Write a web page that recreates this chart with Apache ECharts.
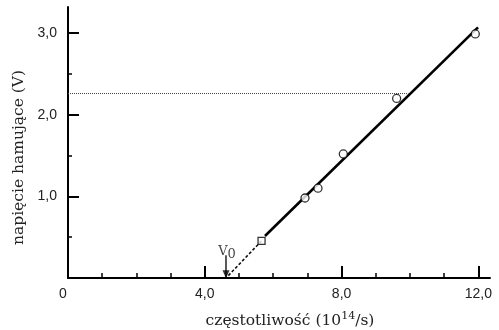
<!DOCTYPE html>
<html>
<head>
<meta charset="utf-8">
<script src="https://cdn.jsdelivr.net/npm/echarts@6/dist/echarts.min.js"></script>
<style>
html,body{margin:0;padding:0;background:#fff;}
#chart{width:499px;height:330px;}
</style>
</head>
<body>
<div id="chart"></div>
<script>
// measured points (frequency in 1e14/s, stopping voltage in V)
const freqPts = [5.66, 6.93, 7.31, 8.05, 9.61, 11.91];
const voltPts = [0.454, 0.98, 1.10, 1.52, 2.20, 2.99];
const pointSymbols = ['rect', 'circle', 'circle', 'circle', 'circle', 'circle'];
// fitted line
const fitFreq = [5.76, 11.99];
const fitVolt = [0.515, 3.07];
// dashed extrapolation to threshold
const extFreq = [5.66, 4.62];
const extVolt = [0.454, 0.0];
// horizontal dotted guide
const guideFreq = [0, 9.95];
const guideVolt = [2.26, 2.26];
// threshold frequency V0 and arrow
const v0 = 4.62;
const arrowVolt = [0.28, 0.0];
// ticks
const xMajorTicks = [4, 8, 12];
const xMinorTicks = [1, 2, 3, 5, 6, 7, 9, 10, 11];
const xTickLabels = [0, 4, 8, 12];
const yMajorTicks = [1, 2, 3];
const yMinorTicks = [0.5, 1.5, 2.5];
const yTickLabels = [1, 2, 3];
const xMax = 12.34, yMax = 3.32;

const zip = (a, b) => a.map((v, i) => [v, b[i]]);
const fmt = v => v === 0 ? '{z|0}' : v.toFixed(1).replace('.', ',');
const tickFont = {fontFamily: 'Liberation Sans', fontSize: 14, color: '#222'};

const chart = echarts.init(document.getElementById('chart'), null, {renderer: 'canvas'});
chart.setOption({
  animation: false,
  backgroundColor: '#fff',
  grid: {left: 68, right: 9, top: 7, bottom: 52, containLabel: false, outerBoundsMode: 'none'},
  xAxis: [{
    type: 'value', min: 0, max: xMax, position: 'bottom',
    axisLine: {show: true, lineStyle: {color: '#000', width: 2}},
    axisTick: {show: true, inside: true, length: 12, customValues: xMajorTicks, lineStyle: {color: '#000', width: 2}},
    axisLabel: Object.assign({show: true, margin: 9, customValues: xTickLabels, formatter: fmt,
      rich: {z: {fontFamily: 'Liberation Sans', fontSize: 14, color: '#222', padding: [0, 10, 0, 0]}}}, tickFont),
    splitLine: {show: false},
    name: 'częstotliwość (10{sup|14}/s)', nameLocation: 'middle', nameGap: 33,
    nameTextStyle: {fontFamily: 'DejaVu Serif', fontSize: 15.5, color: '#222', padding: [0, 0, 0, 22],
      rich: {sup: {fontFamily: 'DejaVu Serif', fontSize: 11, color: '#222', padding: [0, 0, 8, 0]}}}
  }, {
    type: 'value', min: 0, max: xMax, position: 'bottom',
    axisLine: {show: false},
    axisTick: {show: true, inside: true, length: 5, customValues: xMinorTicks, lineStyle: {color: '#000', width: 1.5}},
    axisLabel: {show: false}, splitLine: {show: false}
  }],
  yAxis: [{
    type: 'value', min: 0, max: yMax, position: 'left',
    axisLine: {show: true, lineStyle: {color: '#000', width: 2}},
    axisTick: {show: true, inside: true, length: 11, customValues: yMajorTicks, lineStyle: {color: '#000', width: 2}},
    axisLabel: Object.assign({show: true, margin: 11, customValues: yTickLabels, formatter: fmt}, tickFont),
    splitLine: {show: false},
    name: 'napięcie hamujące (V)', nameLocation: 'middle', nameGap: 39, nameRotate: 90,
    nameTextStyle: {fontFamily: 'DejaVu Serif', fontSize: 15.5, color: '#222', padding: [0, 30, 0, 0]}
  }, {
    type: 'value', min: 0, max: yMax, position: 'left',
    axisLine: {show: false},
    axisTick: {show: true, inside: true, length: 4, customValues: yMinorTicks, lineStyle: {color: '#000', width: 1.5}},
    axisLabel: {show: false}, splitLine: {show: false}
  }],
  series: [{
    type: 'line', data: zip(guideFreq, guideVolt), symbol: 'none',
    lineStyle: {color: '#444', width: 1, type: [1, 1]}, silent: true, z: 1
  }, {
    type: 'line', data: zip(extFreq, extVolt), symbol: 'none',
    lineStyle: {color: '#111', width: 1.6, type: [3, 2]}, silent: true, z: 2
  }, {
    type: 'line', data: zip(fitFreq, fitVolt), symbol: 'none',
    lineStyle: {color: '#000', width: 2.6}, silent: true, z: 3
  }, {
    type: 'line', data: zip([v0, v0], arrowVolt), symbol: 'none',
    lineStyle: {color: '#000', width: 1.3}, silent: true, z: 3
  }, {
    type: 'scatter', data: [[v0, 0.045]], symbol: 'triangle', symbolRotate: 180, symbolSize: [7, 8],
    itemStyle: {color: '#000'}, silent: true, z: 4
  }, {
    type: 'scatter',
    data: freqPts.map((f, i) => ({value: [f, voltPts[i]], symbol: pointSymbols[i],
      symbolSize: pointSymbols[i] === 'rect' ? 7 : 8})),
    itemStyle: {color: '#fff', borderColor: '#000', borderWidth: 1.3}, z: 5
  }, {
    type: 'scatter', data: [[v0 + 0.03, 0.32]], symbol: 'circle', symbolSize: 1,
    itemStyle: {color: 'rgba(0,0,0,0)'}, silent: true,
    label: {show: true, position: 'inside', formatter: '{v|V}{s|0}',
      rich: {v: {fontFamily: 'DejaVu Serif', fontSize: 13, color: '#111', lineHeight: 16},
             s: {fontFamily: 'DejaVu Serif', fontSize: 13, color: '#111', lineHeight: 16, padding: [5, 0, 0, 0]}}},
    z: 6
  }]
});
</script>
</body>
</html>
